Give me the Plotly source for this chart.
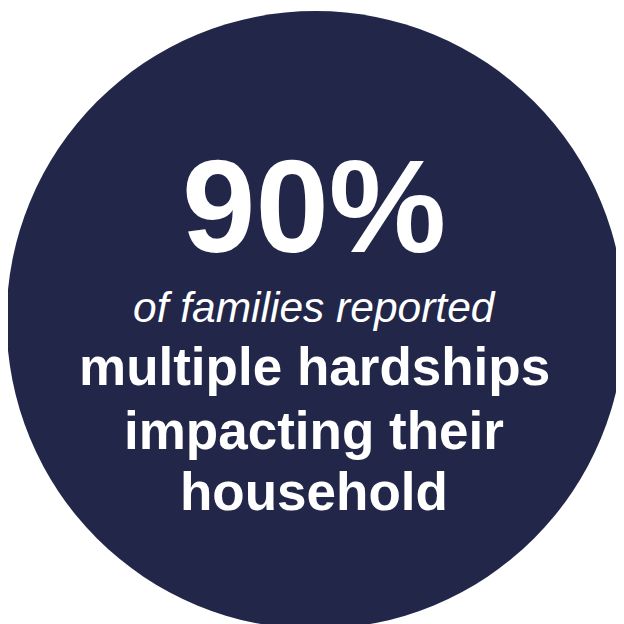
import plotly.graph_objects as go

# Data / text content
stat_value = 90
stat_suffix = "%"
intro_line = "of families reported"
body_lines = ["multiple hardships", "impacting their", "household"]

# Layout constants (page-pixel axes; the page body has an 8px margin)
W = H = 624
OFF = 8
circle_center = (315.5, 320.0)
circle_radius = 309.0
bg_color = "#222649"
font_family = "Liberation Sans, Arial, sans-serif"

fig = go.Figure()

fig.add_shape(
    type="circle", xref="x", yref="y",
    x0=circle_center[0] - circle_radius, x1=circle_center[0] + circle_radius,
    y0=circle_center[1] - circle_radius, y1=circle_center[1] + circle_radius,
    fillcolor=bg_color, line=dict(width=0), layer="below",
)

text_x = 314
fig.add_annotation(
    x=text_x, y=206, xref="x", yref="y", showarrow=False,
    text=f"<b>{stat_value}{stat_suffix}</b>",
    font=dict(family=font_family, size=132, color="white"),
    xanchor="center", yanchor="middle",
)
fig.add_annotation(
    x=text_x, y=307, xref="x", yref="y", showarrow=False,
    text=f"<i>{intro_line}</i>",
    font=dict(family=font_family, size=42.5, color="white"),
    xanchor="center", yanchor="middle",
)
body_y = [366.5, 430.0, 491.0]
for line, yy in zip(body_lines, body_y):
    fig.add_annotation(
        x=text_x, y=yy, xref="x", yref="y", showarrow=False,
        text=f"<b>{line}</b>",
        font=dict(family=font_family, size=53, color="white"),
        xanchor="center", yanchor="middle",
    )

fig.update_layout(
    width=W, height=H,
    margin=dict(l=0, r=0, t=0, b=0),
    paper_bgcolor="white", plot_bgcolor="white",
    xaxis=dict(range=[OFF, W + OFF], visible=False, fixedrange=True),
    yaxis=dict(range=[H + OFF, OFF], visible=False, fixedrange=True),
    showlegend=False,
)

fig.write_html("out.html")
